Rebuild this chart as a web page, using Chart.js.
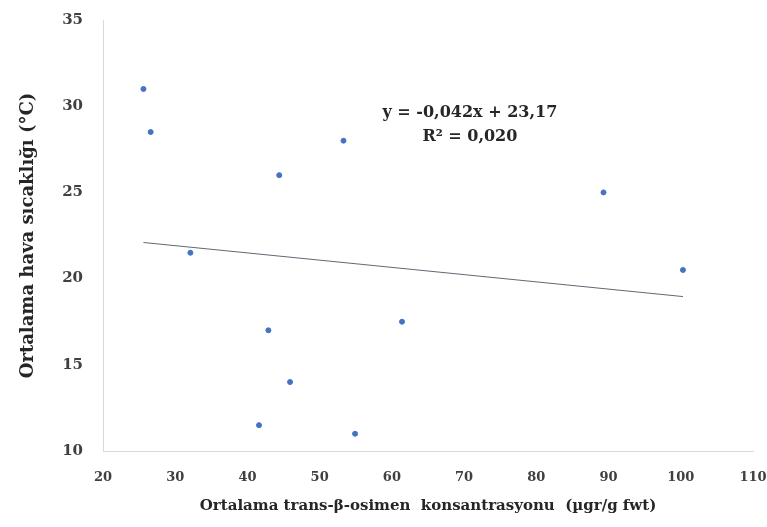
<!DOCTYPE html>
<html>
<head>
<meta charset="utf-8">
<script src="https://cdn.jsdelivr.net/npm/chart.js@4"></script>
<style>
  html, body { margin: 0; padding: 0; background: #fff; }
  #wrap { width: 767px; height: 527px; }
</style>
</head>
<body>
<div id="wrap"><canvas id="chart" width="767" height="527"></canvas></div>
<script>
// Measured points (x: trans-β-osimen concentration, y: mean air temperature)
const xValues = [25.6, 26.6, 32.1, 44.4, 42.9, 45.9, 41.6, 53.3, 54.9, 61.4, 89.3, 100.3];
const yValues = [31.0, 28.5, 21.5, 26.0, 17.0, 14.0, 11.5, 28.0, 11.0, 17.5, 25.0, 20.5];

// Trendline from the equation printed on the chart
const slope = -0.042;
const intercept = 23.17;
const equationLines = ['y = -0,042x + 23,17', 'R² = 0,020'];

const xTicks = [20, 30, 40, 50, 60, 70, 80, 90, 100, 110];
const yTicks = [10, 15, 20, 25, 30, 35];

const points = xValues.map((x, i) => ({ x: x, y: yValues[i] }));
const xMin = Math.min(...xValues), xMax = Math.max(...xValues);
const trend = [xMin, xMax].map(x => ({ x: x, y: slope * x + intercept }));

const serif = '"DejaVu Serif", "Liberation Serif", serif';

// draws the equation text inside the plot
const equationLabel = {
  id: 'equationLabel',
  afterDatasetsDraw(chart) {
    const c = chart.ctx;
    const xs = chart.scales.x, ys = chart.scales.y;
    c.save();
    c.fillStyle = '#262626';
    c.font = 'bold 16px ' + serif;
    c.textAlign = 'center';
    c.textBaseline = 'middle';
    const cx = xs.getPixelForValue(70.8);
    c.fillText(equationLines[0], cx, ys.getPixelForValue(29.6));
    c.fillText(equationLines[1], cx, ys.getPixelForValue(28.2));
    c.restore();
  }
};

new Chart(document.getElementById('chart'), {
  type: 'scatter',
  data: {
    datasets: [
      {
        label: 'Veri',
        data: points,
        backgroundColor: '#4472C4',
        borderColor: '#4472C4',
        pointRadius: 2.5,
        pointHoverRadius: 3
      },
      {
        label: 'Trend',
        type: 'line',
        data: trend,
        borderColor: '#5f6873',
        borderWidth: 1,
        pointRadius: 0,
        fill: false
      }
    ]
  },
  options: {
    responsive: false,
    animation: false,
    layout: { padding: { top: 20, right: 0, left: 14, bottom: 8 } },
    plugins: {
      legend: { display: false },
      tooltip: { enabled: false }
    },
    scales: {
      x: {
        type: 'linear',
        min: 20,
        max: 110,
        afterBuildTicks: axis => { axis.ticks = xTicks.map(v => ({ value: v })); },
        afterFit: axis => {
          axis.height = 68;
          axis.paddingLeft = 0;
          axis.paddingRight = 14;
        },
        grid: { display: false, drawTicks: false },
        border: { display: true, color: '#d9d9d9', width: 1 },
        ticks: { color: '#404040', padding: 19, font: { family: serif, size: 13, weight: 'bold' } },
        title: {
          display: true,
          text: 'Ortalama trans-β-osimen  konsantrasyonu  (µgr/g fwt)',
          color: '#262626',
          padding: { top: 6 },
          font: { family: serif, size: 15, weight: 'bold' }
        }
      },
      y: {
        min: 10,
        max: 35,
        afterBuildTicks: axis => { axis.ticks = yTicks.map(v => ({ value: v })); },
        afterFit: axis => {
          axis.width = 89;
          axis.paddingTop = 0;
          axis.paddingBottom = 0;
        },
        grid: { display: false, drawTicks: false },
        border: { display: true, color: '#d9d9d9', width: 1 },
        ticks: { color: '#404040', padding: 20, font: { family: serif, size: 15, weight: 'bold' } },
        title: {
          display: true,
          text: 'Ortalama hava sıcaklığı (°C)',
          color: '#262626',
          padding: { bottom: 4 },
          font: { family: serif, size: 18, weight: 'bold' }
        }
      }
    }
  },
  plugins: [equationLabel]
});
</script>
</body>
</html>
